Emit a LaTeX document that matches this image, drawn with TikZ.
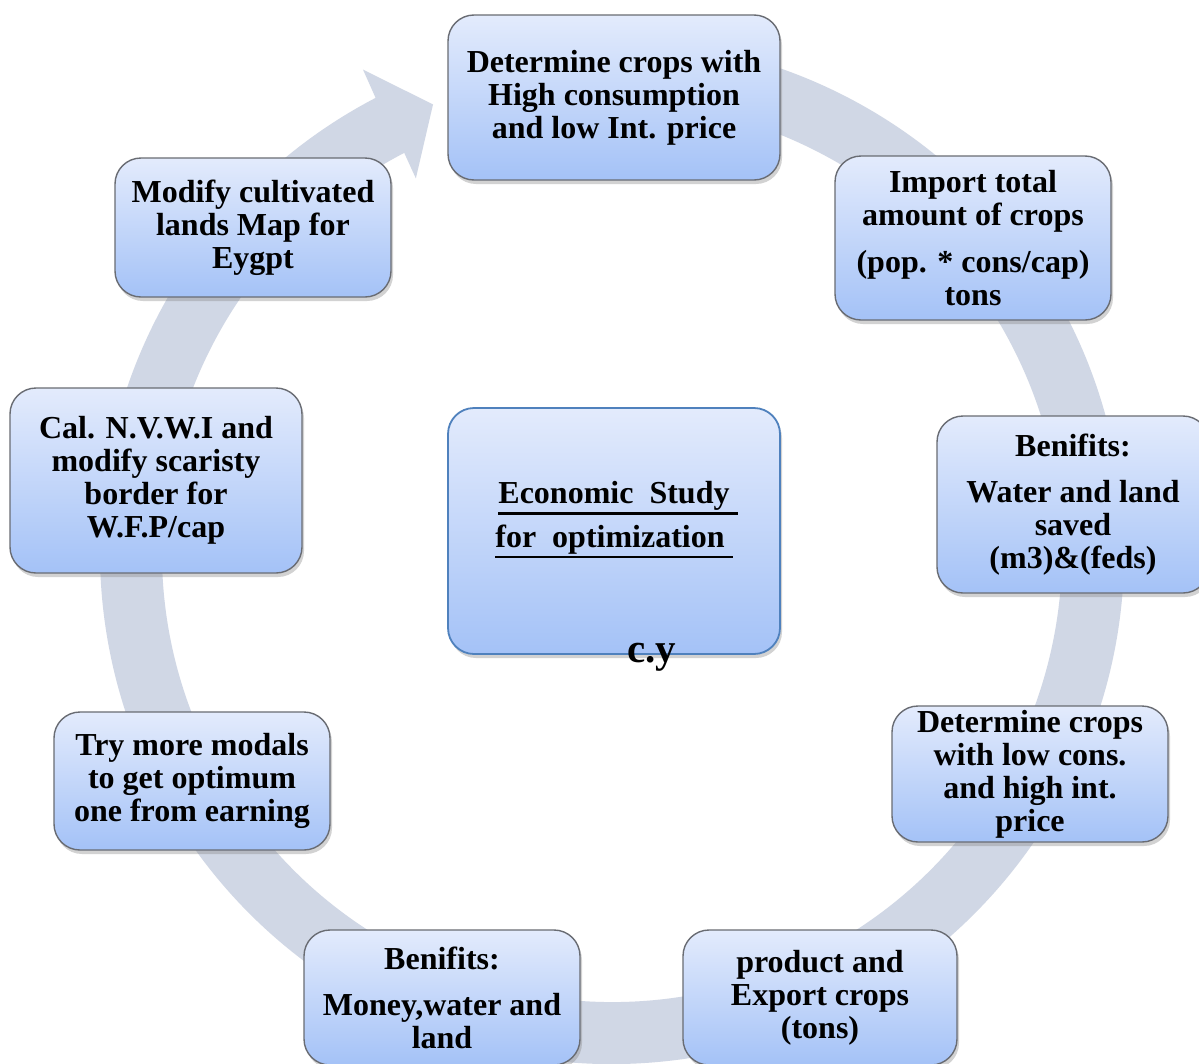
\documentclass[tikz,border=0pt]{standalone}
\usepackage{fontspec}
\setmainfont{Liberation Serif}
\usetikzlibrary{shadows}
\definecolor{ringc}{RGB}{208,215,229}
\definecolor{boxtop}{RGB}{227,235,252}
\definecolor{boxbot}{RGB}{164,194,247}
\definecolor{boxedge}{RGB}{105,108,115}
\definecolor{cedge}{RGB}{79,129,189}
\newcommand{\ulline}[1]{\vtop{\hbox{#1}\kern2pt\hrule height 2.6pt}}
\begin{document}
\begin{tikzpicture}[x=1pt,y=-1pt,
  stagebox/.style={draw=boxedge, line width=1.4pt, rounded corners=26pt,
    top color=boxtop, bottom color=boxbot, align=center, inner sep=0pt,
    font=\fontsize{32}{33}\selectfont\bfseries,
    drop shadow={opacity=0.35, shadow xshift=2pt, shadow yshift=-4pt}},
  centerbox/.style={stagebox, draw=cedge, line width=1.8pt},
  bigtext/.style={font=\fontsize{32}{33}\selectfont\bfseries, inner sep=0pt},
]
\useasboundingbox (0,0) rectangle (1199,1063);
\fill[white] (0,0) rectangle (1199,1063);

% circular arrow
\fill[ringc, shift={(612,552)}]
  (100:512pt) arc[start angle=100, end angle=-242.5, radius=512pt]
  -- (-242.7:543pt) -- (-248.2:482pt) -- (-242.3:422pt) -- (-242.5:450pt)
  arc[start angle=-242.5, end angle=100, radius=450pt] -- cycle;

% boxes
\node[stagebox, minimum width=332pt, minimum height=165pt] (top) at (614,97.5)
  {Determine crops with\\High consumption\\and low Int. price};
\node[stagebox, minimum width=276pt, minimum height=164pt] (import) at (973,238)
  {Import total\\amount of crops\\[14pt](pop. * cons/cap)\\tons};
\node[stagebox, minimum width=272pt, minimum height=177pt] (benR) at (1073,504.5)
  {Benifits:\\[13pt]Water and land\\saved\\(m3)\&(feds)};
\node[stagebox, minimum width=276pt, minimum height=136pt] (detlow) at (1030,774)
  {Determine crops\\with low cons.\\and high int.\\price};
\node[stagebox, minimum width=274pt, minimum height=135pt] (product) at (820,997.5)
  {product and\\Export crops\\(tons)};
\node[stagebox, minimum width=276pt, minimum height=135pt] (benB) at (442,997.5)
  {Benifits:\\[13pt]Money,water and\\land};
\node[stagebox, minimum width=276pt, minimum height=138pt] (try) at (192,781)
  {Try more modals\\to get optimum\\one from earning};
\node[stagebox, minimum width=292pt, minimum height=185pt] (cal) at (156,480.5)
  {Cal. N.V.W.I and\\modify scaristy\\border for\\W.F.P/cap};
\node[stagebox, minimum width=276pt, minimum height=139pt] (modify) at (253,227.5)
  {Modify cultivated\\lands Map for\\Eygpt};

% centre box
\node[centerbox, minimum width=332pt, minimum height=246pt] (centre) at (614,531) {};
\node[bigtext, anchor=base] (ct1) at (618,503) {\ulline{Economic\ \ Study\ }};
\node[bigtext, anchor=base] (ct2) at (614,547) {\ulline{for\ \ optimization\ }};
\node[font=\fontsize{41}{41}\selectfont\bfseries, inner sep=0pt, anchor=base] (cy) at (652,662) {c.y};
\end{tikzpicture}
\end{document}
